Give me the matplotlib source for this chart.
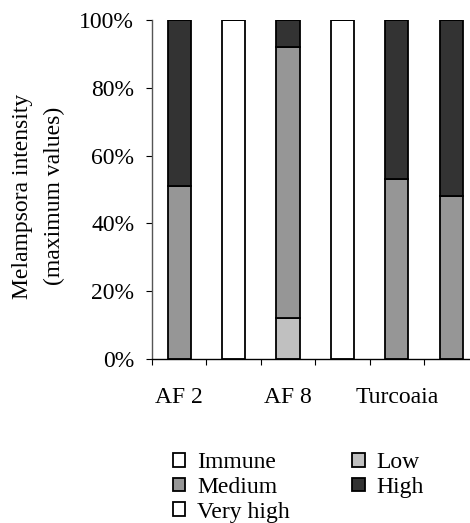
import matplotlib
matplotlib.use("Agg")
import matplotlib.pyplot as plt
from matplotlib.ticker import FuncFormatter, FixedLocator

plt.rcParams["font.family"] = ["Liberation Serif", "DejaVu Serif"]

clones = ["AF 2", "", "AF 8", "", "Turcoaia", ""]

immune = [0, 100, 0, 100, 0, 0]
low = [0, 0, 12, 0, 0, 0]
medium = [51, 0, 80, 0, 53, 48]
high = [49, 0, 8, 0, 47, 52]
very_high = [0, 0, 0, 0, 0, 0]

series = [
    ("Immune", immune, "#ffffff"),
    ("Low", low, "#c0c0c0"),
    ("Medium", medium, "#969696"),
    ("High", high, "#333333"),
    ("Very high", very_high, "#ffffff"),
]

fig = plt.figure(figsize=(4.70, 5.23), dpi=100)
ax = fig.add_axes([152 / 470, 164 / 523, 326.4 / 470, 339 / 523])

x = list(range(len(clones)))
bottom = [0] * len(clones)
handles = {}
for name, vals, color in series:
    bars = ax.bar(x, vals, width=0.43, bottom=bottom, color=color,
                  edgecolor="black", linewidth=1.3, label=name)
    handles[name] = bars
    bottom = [b + v for b, v in zip(bottom, vals)]

ax.set_xlim(-0.5, 5.5)
ax.set_ylim(0, 100)
ax.set_yticks([0, 20, 40, 60, 80, 100])
ax.yaxis.set_major_formatter(FuncFormatter(lambda v, p: f"{v:.0f}%"))

ax.set_xticks(x)
ax.set_xticklabels(clones)
ax.xaxis.set_minor_locator(FixedLocator([i - 0.5 for i in range(len(clones) + 1)]))
ax.tick_params(axis="x", which="major", length=0, pad=20, labelsize=17)
ax.tick_params(axis="x", which="minor", length=4.5, width=0.8, direction="out")
ax.tick_params(axis="y", length=4.3, width=0.8, direction="out", pad=8.5, labelsize=17)

for s in ["top", "right"]:
    ax.spines[s].set_visible(False)
ax.spines["left"].set_color("#555555")
ax.spines["left"].set_linewidth(1)
ax.spines["bottom"].set_linewidth(1)

ax.set_ylabel("Melampsora intensity\n(maximum values)", fontsize=17,
              linespacing=1.65)
ax.yaxis.set_label_coords(-0.267, 0.48)

order = ["Immune", "Medium", "Very high", "Low", "High"]
fig.legend([handles[n] for n in order], order, ncol=2, frameon=False,
           loc="upper left", bbox_to_anchor=(173 / 470, 71 / 523),
           borderpad=0, borderaxespad=0, fontsize=17, labelspacing=0.16,
           handlelength=0.52, handleheight=0.52, handletextpad=0.5,
           columnspacing=2.65)

fig.savefig("out.png", dpi=100)
